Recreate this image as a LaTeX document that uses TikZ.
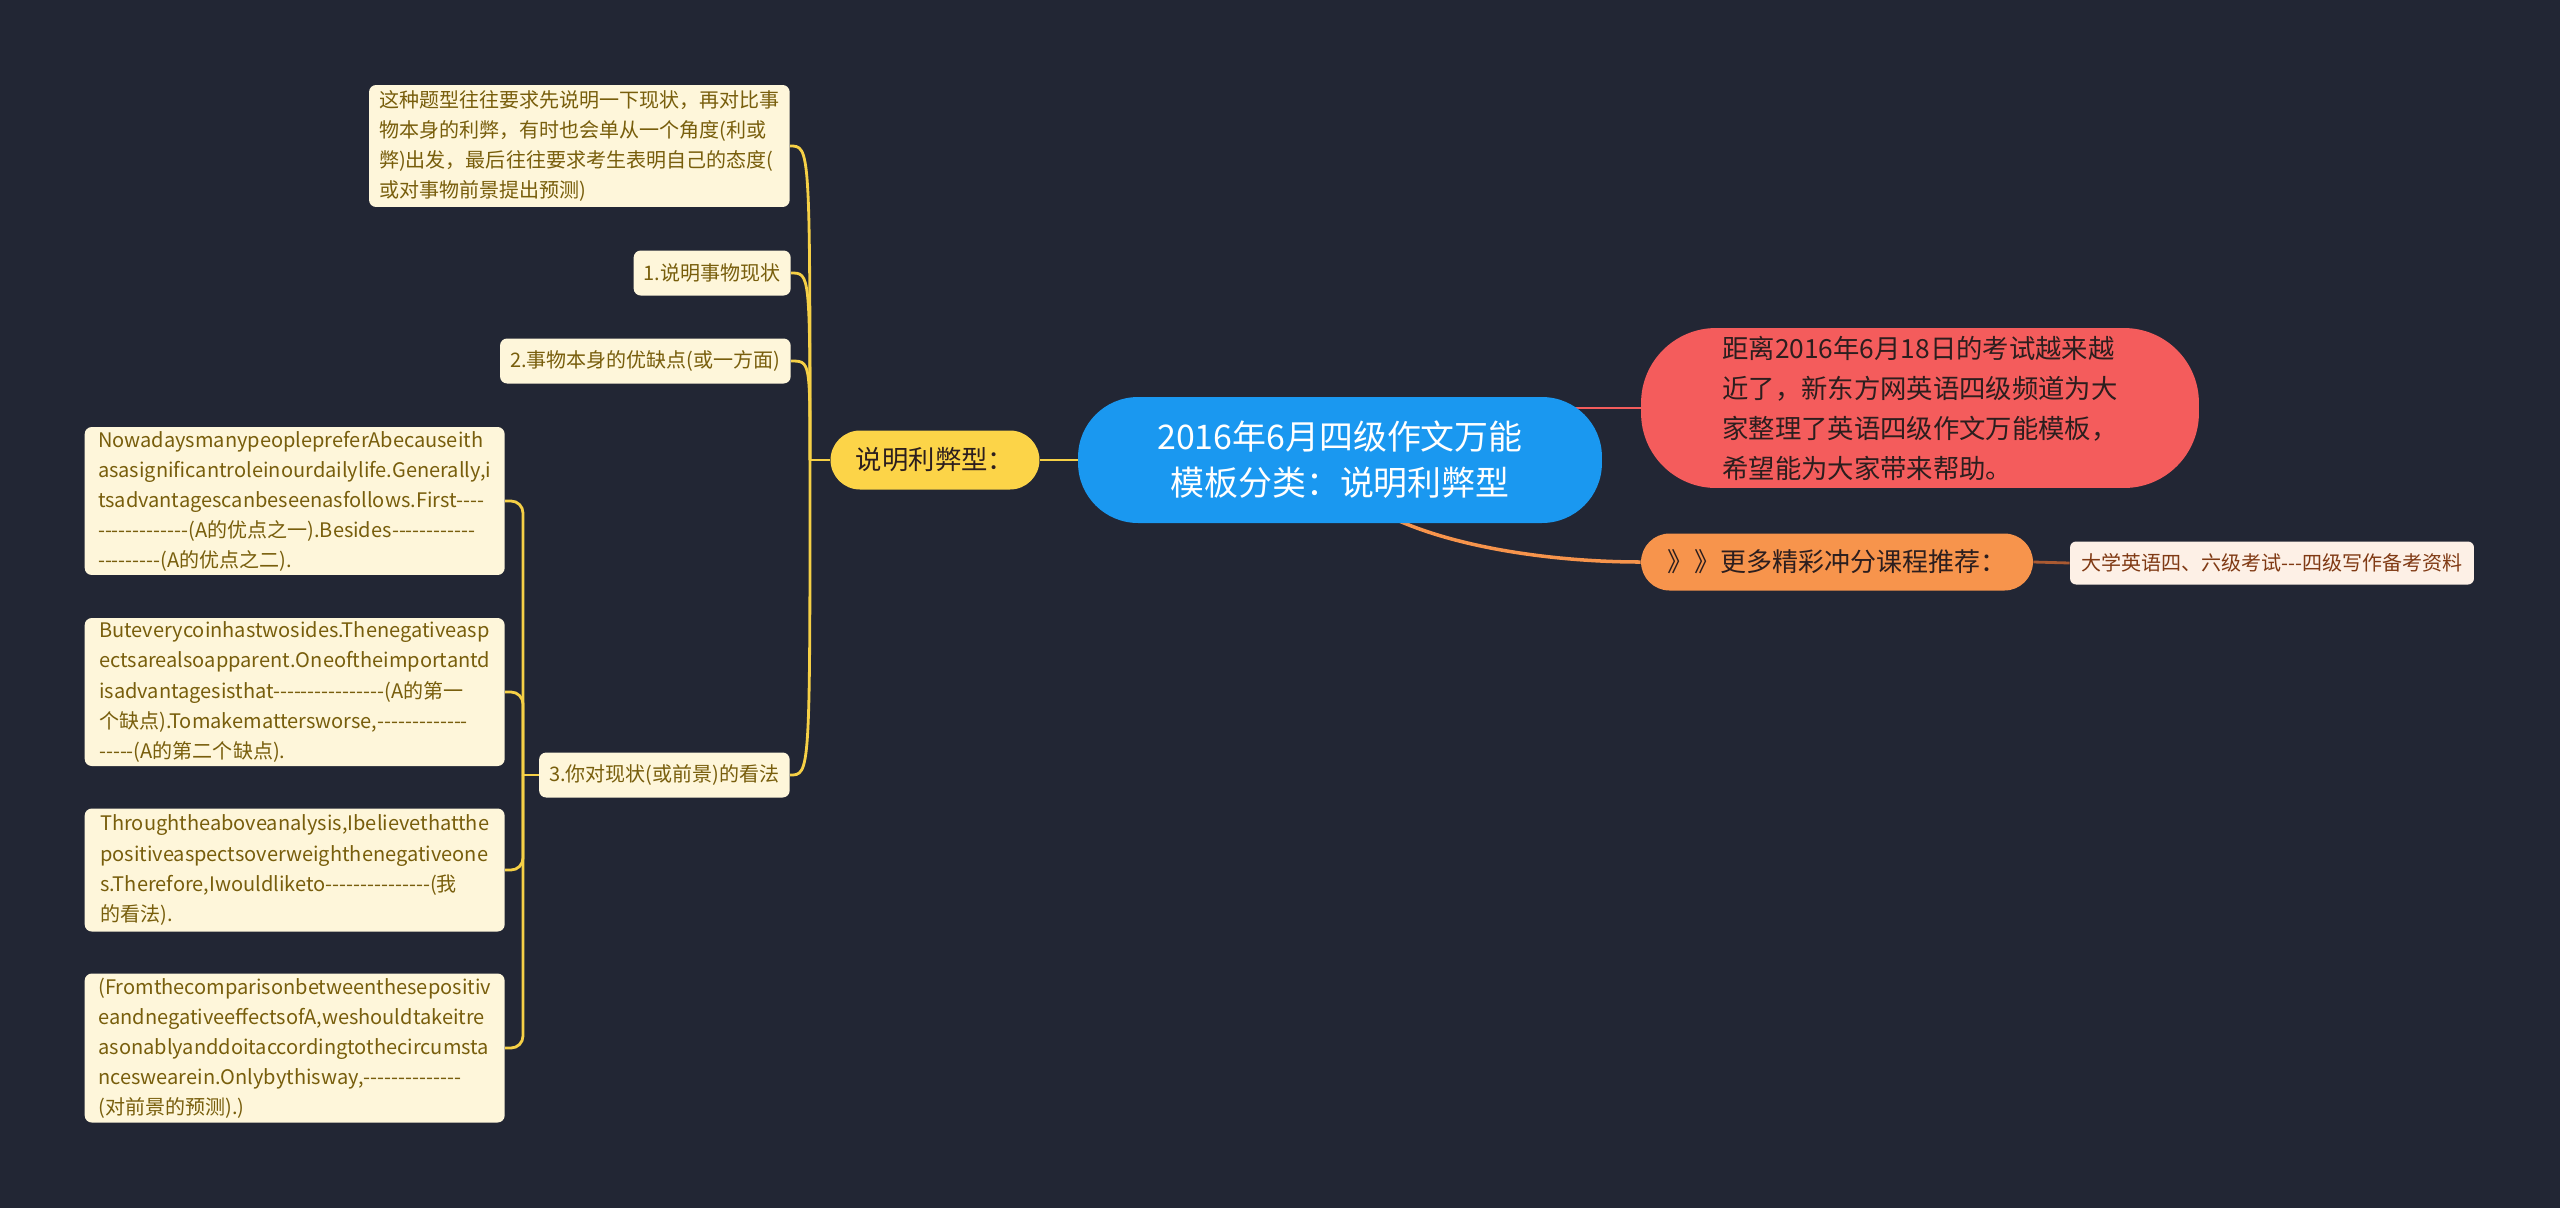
\documentclass[tikz,border=0pt]{standalone}
\usepackage{fontspec}
\setmainfont{Noto Sans CJK SC}[Ligatures=TeXOff]
\usetikzlibrary{positioning,calc}
\definecolor{night}{RGB}{34,38,52}
\definecolor{rootblue}{RGB}{26,152,240}
\definecolor{introred}{RGB}{244,92,92}
\definecolor{moreorange}{RGB}{247,148,76}
\definecolor{kindyellow}{RGB}{252,212,72}
\definecolor{linkyellow}{RGB}{246,208,70}
\definecolor{leafcream}{RGB}{254,246,218}
\definecolor{leafink}{RGB}{120,94,12}
\definecolor{coursepeach}{RGB}{253,240,230}
\definecolor{courseink}{RGB}{128,58,20}
\definecolor{courselink}{RGB}{170,90,50}
\definecolor{darkink}{RGB}{44,30,30}
\pgfdeclarelayer{edges}
\pgfsetlayers{edges,main}
\tikzset{
  rootbox/.style={fill=rootblue, text=white, rounded corners=1.2cm, align=center, minimum width=10.48cm, minimum height=2.52cm, inner sep=0pt, font=\fontsize{19.3}{26.2}\selectfont},
  introbox/.style={fill=introred, text=darkink, rounded corners=1.5cm, align=left, minimum width=11.16cm, minimum height=3.2cm, inner sep=0pt, font=\fontsize{15}{22.8}\selectfont},
  morebox/.style={fill=moreorange, text=darkink, rounded corners=0.57cm, align=center, minimum width=7.84cm, minimum height=1.14cm, inner sep=0pt, font=\fontsize{14.8}{18}\selectfont},
  kindbox/.style={fill=kindyellow, text=darkink, rounded corners=0.59cm, align=center, minimum width=4.18cm, minimum height=1.18cm, inner sep=0pt, font=\fontsize{15}{18}\selectfont},
  coursebox/.style={fill=coursepeach, text=courseink, rounded corners=0.12cm, align=center, minimum width=8.08cm, minimum height=0.86cm, inner sep=0pt, font=\fontsize{11.4}{14}\selectfont},
  leaf/.style={fill=leafcream, text=leafink, rounded corners=0.14cm, align=left, inner xsep=0.2cm, inner ysep=0pt, minimum height=0.9cm, anchor=east, font=\fontsize{11.4}{17.1}\selectfont},
  ylink/.style={draw=linkyellow, line width=1.6pt},
  rlink/.style={draw=introred, line width=1.6pt},
  olink/.style={draw=moreorange, line width=2pt},
  clink/.style={draw=courselink, line width=1.6pt}
}
\begin{document}
\begin{tikzpicture}[x=0.02cm,y=-0.02cm]
  \begin{pgfonlayer}{edges}
    \fill[night] (0,0) rectangle (2560,1208);
  \end{pgfonlayer}
  \useasboundingbox (0,0) rectangle (2560,1208);
  \node[rootbox] (root) at (1340,460) {2016年6月四级作文万能\\模板分类：说明利弊型};
  \node[introbox] (intro) at (1920,408) {距离2016年6月18日的考试越来越\\近了，新东方网英语四级频道为大\\家整理了英语四级作文万能模板，\\希望能为大家带来帮助。};
  \node[morebox] (more) at (1837,562) {》》更多精彩冲分课程推荐：};
  \node[coursebox] (course) at (2272,563) {大学英语四、六级考试---四级写作备考资料};
  \node[kindbox] (kind) at (935,460) {说明利弊型：};
  \node[leaf, minimum width=8.36cm, minimum height=2.44cm] (desc) at (790,146) {这种题型往往要求先说明一下现状，再对比事\\物本身的利弊，有时也会单从一个角度(利或\\弊)出发，最后往往要求考生表明自己的态度(\\或对事物前景提出预测)};
  \node[leaf, minimum width=3.14cm] (s1) at (791,273) {1.说明事物现状};
  \node[leaf, minimum width=5.78cm] (s2) at (791,361) {2.事物本身的优缺点(或一方面)};
  \node[leaf, minimum width=4.96cm] (s3) at (790,775) {3.你对现状(或前景)的看法};
  \node[leaf, minimum width=8.4cm, minimum height=2.96cm] (e1) at (505,501) {NowadaysmanypeoplepreferAbecauseith\\asasignificantroleinourdailylife.Generally,i\\tsadvantagescanbeseenasfollows.First----\\-------------(A的优点之一).Besides------------\\---------(A的优点之二).};
  \node[leaf, minimum width=8.4cm, minimum height=2.96cm] (e2) at (505,692) {Buteverycoinhastwosides.Thenegativeasp\\ectsarealsoapparent.Oneoftheimportantd\\isadvantagesisthat----------------(A的第一\\个缺点).Tomakemattersworse,-------------\\-----(A的第二个缺点).};
  \node[leaf, minimum width=8.4cm, minimum height=2.46cm] (e3) at (505,870) {Throughtheaboveanalysis,Ibelievethatthe\\positiveaspectsoverweighthenegativeone\\s.Therefore,Iwouldliketo---------------(我\\的看法).};
  \node[leaf, minimum width=8.4cm, minimum height=2.98cm] (e4) at (505,1048) {(Fromthecomparisonbetweenthesepositiv\\eandnegativeeffectsofA,weshouldtakeitre\\asonablyanddoitaccordingtothecircumsta\\nceswearein.Onlybythisway,--------------\\(对前景的预测).)};
  \coordinate (hub) at (810,460);
  \coordinate (hub3) at (523,775);
  \begin{pgfonlayer}{edges}
    \draw[ylink] (root.west) -- (kind.east);
    \draw[ylink] (kind.west) -- (hub);
    \foreach \n in {desc,s1,s2,s3} \draw[ylink] (hub) .. controls (hub |- \n.east) .. (\n.east);
    \draw[ylink] (s3.west) -- (hub3);
    \foreach \n in {e1,e2,e3,e4} \draw[ylink, rounded corners=0.24cm] (hub3) |- (\n.east);
    \draw[rlink] (root.center |- intro.west) -- (intro.west);
    \draw[olink] ([xshift=0.86cm,yshift=0.2cm]root.south) .. controls +(70,36) and +(-80,0) .. (more.west);
    \draw[clink] (more.east) -- (course.west);
  \end{pgfonlayer}
\end{tikzpicture}
\end{document}
